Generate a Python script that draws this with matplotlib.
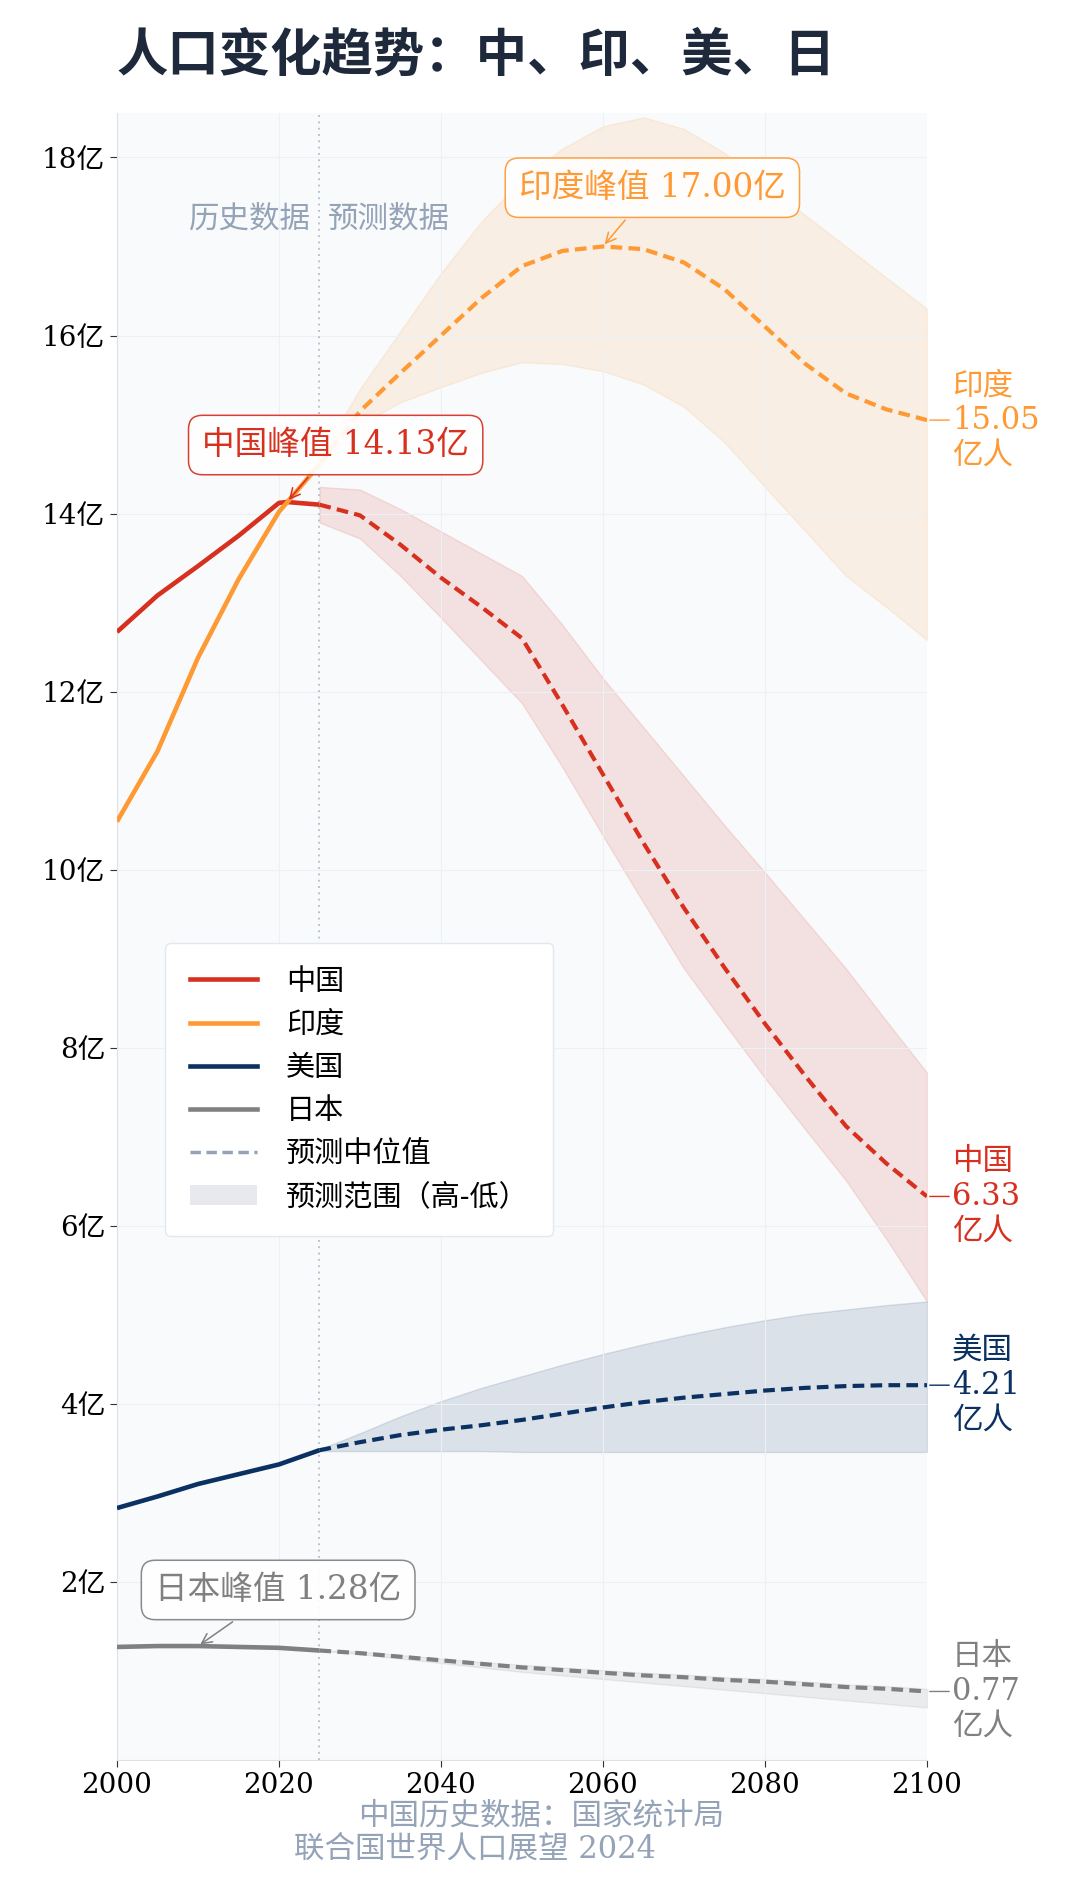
import matplotlib
matplotlib.use("Agg")
import matplotlib.pyplot as plt
from matplotlib.lines import Line2D
from matplotlib.patches import Patch

plt.rcParams["font.family"] = ["DejaVu Serif", "Noto Sans CJK SC"]

# historical data (亿人)
cn_hist_years = [2000, 2005, 2010, 2015, 2020, 2021, 2025]
cn_hist = [12.67, 13.08, 13.41, 13.75, 14.12, 14.13, 14.10]
in_hist_years = [2000, 2005, 2010, 2015, 2020, 2025]
in_hist = [10.54, 11.33, 12.38, 13.26, 14.02, 14.55]
us_hist_years = [2000, 2005, 2010, 2015, 2020, 2025]
us_hist = [2.83, 2.96, 3.10, 3.21, 3.32, 3.48]
jp_hist_years = [2000, 2005, 2010, 2015, 2020, 2025]
jp_hist = [1.27, 1.28, 1.28, 1.27, 1.26, 1.23]

# projections (UN WPP 2024): median / high / low
proj_years = [2025, 2030, 2035, 2040, 2045, 2050, 2055, 2060,
              2065, 2070, 2075, 2080, 2085, 2090, 2095, 2100]
cn_med = [14.10, 13.98, 13.65, 13.28, 12.95, 12.60, 11.85, 11.07,
          10.30, 9.57, 8.90, 8.27, 7.68, 7.12, 6.70, 6.33]
cn_high = [14.30, 14.27, 14.05, 13.80, 13.55, 13.30, 12.75, 12.15,
           11.60, 11.05, 10.50, 9.97, 9.43, 8.89, 8.30, 7.72]
cn_low = [13.90, 13.72, 13.30, 12.83, 12.35, 11.87, 11.15, 10.38,
          9.63, 8.89, 8.27, 7.66, 7.08, 6.51, 5.85, 5.15]
in_med = [14.55, 15.15, 15.58, 16.00, 16.42, 16.78, 16.95, 17.00,
          16.97, 16.82, 16.52, 16.10, 15.68, 15.35, 15.17, 15.05]
in_high = [14.62, 15.40, 16.05, 16.70, 17.28, 17.75, 18.10, 18.35,
           18.45, 18.32, 18.05, 17.70, 17.35, 17.00, 16.65, 16.30]
in_low = [14.50, 15.00, 15.25, 15.42, 15.58, 15.70, 15.68, 15.60,
          15.45, 15.20, 14.80, 14.30, 13.80, 13.30, 12.95, 12.58]
us_med = [3.48, 3.57, 3.65, 3.71, 3.76, 3.82, 3.89, 3.96,
          4.02, 4.07, 4.11, 4.15, 4.18, 4.20, 4.21, 4.21]
us_high = [3.49, 3.67, 3.86, 4.03, 4.18, 4.31, 4.44, 4.56,
           4.67, 4.77, 4.86, 4.94, 5.01, 5.06, 5.11, 5.15]
us_low = [3.47, 3.47, 3.47, 3.47, 3.47, 3.46, 3.46, 3.46,
          3.46, 3.46, 3.46, 3.46, 3.46, 3.46, 3.46, 3.46]
jp_med = [1.23, 1.20, 1.16, 1.12, 1.08, 1.04, 1.01, 0.98,
          0.95, 0.93, 0.90, 0.88, 0.85, 0.82, 0.80, 0.77]
jp_high = [1.23, 1.22, 1.18, 1.14, 1.10, 1.07, 1.04, 1.01,
           0.98, 0.96, 0.93, 0.91, 0.88, 0.85, 0.83, 0.80]
jp_low = [1.23, 1.19, 1.14, 1.09, 1.04, 0.99, 0.95, 0.91,
          0.87, 0.83, 0.79, 0.75, 0.71, 0.67, 0.63, 0.59]

names = ["中国", "印度", "美国", "日本"]
colors = ["#d7301f", "#ff9933", "#0a3161", "#808080"]
y_ticks = [2, 4, 6, 8, 10, 12, 14, 16, 18]
x_ticks = [2000, 2020, 2040, 2060, 2080, 2100]

series = [
    (cn_hist_years, cn_hist, cn_med, cn_high, cn_low),
    (in_hist_years, in_hist, in_med, in_high, in_low),
    (us_hist_years, us_hist, us_med, us_high, us_low),
    (jp_hist_years, jp_hist, jp_med, jp_high, jp_low),
]

fig = plt.figure(figsize=(10.8, 18.98), dpi=100)
ax = fig.add_axes([0.1083, 0.0727, 0.75, 0.8678])
ax.set_facecolor("#f8fafc")

for (hy, hv, med, hi, lo), c in zip(series, colors):
    ax.fill_between(proj_years, lo, hi, color=c, alpha=0.12, lw=1, zorder=1)
    ax.plot(hy, hv, color=c, lw=3.3, solid_capstyle="butt", zorder=3)
    ax.plot(proj_years, med, color=c, lw=3.0, ls=(0, (2.8, 1.5)), zorder=3)

ax.axvline(2025, color="#b4bcc8", lw=1.3, ls=(0, (1, 2.5)), zorder=2)

ax.set_xlim(2000, 2100)
ax.set_ylim(0, 18.5)
ax.set_xticks(x_ticks)
ax.set_yticks(y_ticks)
ax.set_yticklabels([f"{v}亿" for v in y_ticks])
ax.tick_params(labelsize=20, length=5, color="#333333")
ax.grid(True, color="#edf0f4", lw=0.8, zorder=0)
for s in ["top", "right"]:
    ax.spines[s].set_visible(False)
for s in ["left", "bottom"]:
    ax.spines[s].set_color("#dde2e8")

# text above the split line
ax.annotate("历史数据", xy=(2025, 17.31), xytext=(-6, 0), textcoords="offset points",
            ha="right", va="center", fontsize=22, color="#94a3b8")
ax.annotate("预测数据", xy=(2025, 17.31), xytext=(6, 0), textcoords="offset points",
            ha="left", va="center", fontsize=22, color="#94a3b8")

# peak callouts
peaks = [
    ("中国峰值 14.13亿", (2021, 14.13), (2027.0, 14.77), colors[0]),
    ("印度峰值 17.00亿", (2060, 17.00), (2066.1, 17.66), colors[1]),
    ("日本峰值 1.28亿", (2010, 1.28), (2019.9, 1.91), colors[3]),
]
for txt, xy, xyt, c in peaks:
    ax.annotate(txt, xy=xy, xytext=xyt, ha="center", va="center",
                fontsize=23.5, color=c, zorder=6,
                bbox=dict(boxstyle="round,pad=0.42", fc="white", ec=c, lw=1.1, alpha=0.92),
                arrowprops=dict(arrowstyle="->", color=c, lw=1.1, mutation_scale=18))

# end labels
end_vals = [cn_med[-1], in_med[-1], us_med[-1], jp_med[-1]]
for name, v, c in zip(names, end_vals, colors):
    ax.annotate(f"{name}\n{v:.2f}\n亿人", xy=(2100, v), xytext=(18, 0),
                textcoords="offset points", ha="left", va="center",
                fontsize=22, color=c, linespacing=1.15, annotation_clip=False,
                arrowprops=dict(arrowstyle="-", color=c, lw=1, shrinkA=0, shrinkB=2))

handles = [Line2D([0], [0], color=c, lw=3.3) for c in colors]
handles.append(Line2D([0], [0], color="#94a3b8", lw=2.5, ls=(0, (3, 1.6))))
handles.append(Patch(facecolor="#e8e9ef", edgecolor="none"))
labels = names + ["预测中位值", "预测范围（高-低）"]
leg = ax.legend(handles, labels, loc="upper left", bbox_to_anchor=(0.041, 0.505),
                fontsize=21, frameon=True, fancybox=True, framealpha=1,
                facecolor="white", edgecolor="#e2e8f0", labelspacing=0.52,
                handlelength=2.3, handletextpad=1.0, borderpad=0.85)
leg.get_frame().set_linewidth(1)
leg.set_zorder(7)

fig.text(0.1083, 0.97, "人口变化趋势：中、印、美、日", fontsize=37,
         fontweight="bold", color="#1e293b", ha="left", va="center")
fig.text(0.501, 0.0432, "中国历史数据：国家统计局", fontsize=22,
         color="#94a3b8", ha="center", va="center")
fig.text(0.44, 0.0258, "联合国世界人口展望 2024", fontsize=22,
         color="#94a3b8", ha="center", va="center")

fig.savefig("out.png", dpi=100, facecolor="white")
